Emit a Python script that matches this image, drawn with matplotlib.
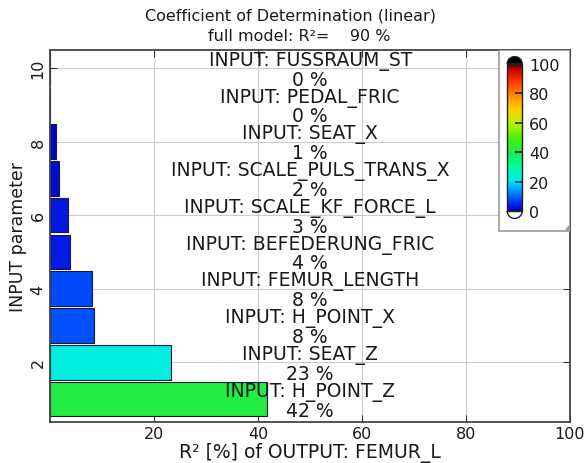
import numpy as np
import matplotlib
matplotlib.use("Agg")
import matplotlib.pyplot as plt
from matplotlib.colors import LinearSegmentedColormap, Normalize
from matplotlib.patches import Rectangle, Polygon

# parameters from bottom (1) to top (10)
positions = [1, 2, 3, 4, 5, 6, 7, 8, 9, 10]
names = ["H_POINT_Z", "SEAT_Z", "H_POINT_X", "FEMUR_LENGTH", "BEFEDERUNG_FRIC",
         "SCALE_KF_FORCE_L", "SCALE_PULS_TRANS_X", "SEAT_X", "PEDAL_FRIC", "FUSSRAUM_ST"]
r2_values = [41.7, 23.2, 8.4, 8.0, 3.7, 3.4, 1.6, 1.0, 0.0, 0.0]
pct_labels = [42, 23, 8, 8, 4, 3, 2, 1, 0, 0]
full_model_r2 = 90

# blue -> cyan -> green -> yellow -> red -> black colour scale of the colorbar
stops = [
    (0.00, (0.00, 0.00, 0.75)),
    (0.05, (0.00, 0.15, 0.95)),
    (0.10, (0.00, 0.40, 1.00)),
    (0.20, (0.00, 0.90, 1.00)),
    (0.30, (0.00, 1.00, 0.60)),
    (0.40, (0.10, 0.92, 0.30)),
    (0.50, (0.30, 0.95, 0.00)),
    (0.60, (0.75, 0.95, 0.00)),
    (0.70, (1.00, 0.80, 0.00)),
    (0.80, (1.00, 0.50, 0.00)),
    (0.90, (1.00, 0.15, 0.00)),
    (0.97, (0.75, 0.00, 0.00)),
    (1.00, (0.20, 0.00, 0.00)),
]
cmap = LinearSegmentedColormap.from_list("r2scale", stops)
norm = Normalize(0, 100)

fig = plt.figure(figsize=(5.87, 4.64), dpi=100)
ax = fig.add_axes([0.086, 0.088, 0.885, 0.802])

ax.barh(positions, r2_values, height=0.94, color=cmap(norm(np.array(r2_values))),
        edgecolor="#1a1a40", linewidth=0.8, zorder=2)

for y, name, pct in zip(positions, names, pct_labels):
    ax.text(50, y + 0.21, f"INPUT: {name}", ha="center", va="center",
            fontsize=13.5, color="#1a1a1a", zorder=3)
    ax.text(50, y - 0.3, f"{pct} %", ha="center", va="center",
            fontsize=13.5, color="#1a1a1a", zorder=3)

ax.set_xlim(0, 100)
ax.set_ylim(0.37, 10.49)
ax.set_xticks([20, 40, 60, 80, 100])
ax.set_yticks([2, 4, 6, 8, 10])
ax.set_yticklabels(["2", "4", "6", "8", "10"], rotation=90, va="center")
ax.tick_params(direction="in", top=True, right=True, labelsize=11.5, length=5,
               color="#333333", labelcolor="#1a1a1a")
ax.tick_params(axis="x", pad=3)
ax.grid(True, color="#cccccc", linewidth=0.8, zorder=0)
ax.set_axisbelow(True)
for s in ax.spines.values():
    s.set_color("#444444")
    s.set_linewidth(1.3)

ax.set_xlabel("R² [%] of OUTPUT: FEMUR_L", fontsize=13.5, color="#1a1a1a", va="center")
ax.xaxis.set_label_coords(0.5, -0.081)
ax.set_ylabel("INPUT parameter", fontsize=12.5, color="#1a1a1a")
ax.yaxis.set_label_coords(-0.045, 0.5)

fig.text(0.495, 0.966, "Coefficient of Determination (linear)", ha="center",
         va="center", fontsize=11.5, color="#1a1a1a")
fig.text(0.51, 0.922, f"full model: R²=    {full_model_r2} %", ha="center",
         va="center", fontsize=11.5, color="#1a1a1a")

# colorbar box in the top right corner
box = Rectangle((0.863, 0.515), 0.137, 0.485, transform=ax.transAxes,
                facecolor="white", edgecolor="#999999", linewidth=1.2, zorder=4)
ax.add_patch(box)
ax.add_patch(Polygon([[0.99, 0.517], [0.998, 0.517], [0.998, 0.531]],
                     closed=True, transform=ax.transAxes, facecolor="#999999",
                     edgecolor="none", zorder=5))

cax = fig.add_axes([0.864, 0.543, 0.0256, 0.317])
sm = plt.cm.ScalarMappable(norm=norm, cmap=cmap)
cb = fig.colorbar(sm, cax=cax)
cb.set_ticks([0, 20, 40, 60, 80, 100])
cb.outline.set_linewidth(1.0)
cb.outline.set_edgecolor("#222222")
cax.tick_params(direction="in", length=5, width=1.2, color="#222222",
                labelsize=11.5, labelcolor="#1a1a1a", pad=5)

# rounded end caps: black on top, white at the bottom
t = np.linspace(0, np.pi, 40)
cap_h = 0.05
top_cap = np.column_stack([0.5 + 0.5 * np.cos(t), 1 + cap_h * np.sin(t)])
bot_cap = np.column_stack([0.5 + 0.5 * np.cos(t), -cap_h * np.sin(t)])
cax.add_patch(Polygon(top_cap, closed=True, transform=cax.transAxes,
                      facecolor="black", edgecolor="#222222", lw=1.0, clip_on=False))
cax.add_patch(Polygon(bot_cap, closed=True, transform=cax.transAxes,
                      facecolor="white", edgecolor="#222222", lw=1.0, clip_on=False))

fig.savefig("out.png", dpi=100)
